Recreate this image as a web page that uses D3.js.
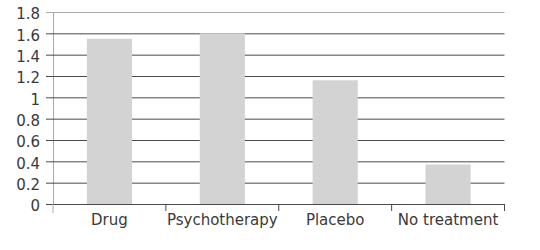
<!DOCTYPE html>
<html>
<head>
<meta charset="utf-8">
<script src="https://cdn.jsdelivr.net/npm/d3@7"></script>
<style>
  body { margin: 0; background: #fff; }
  svg text { font-family: "DejaVu Sans", sans-serif; fill: #3a3a3a; }
</style>
</head>
<body>
<svg id="chart" width="540" height="250"></svg>
<script>
// Chart data
const categories = ["Drug", "Psychotherapy", "Placebo", "No treatment"];
const values = [1.55, 1.60, 1.16, 0.37];
const yTicks = [0, 0.2, 0.4, 0.6, 0.8, 1, 1.2, 1.4, 1.6, 1.8];

const margin = { top: 12, right: 35.5, bottom: 46, left: 53 };
const width = 540 - margin.left - margin.right;
const height = 250 - margin.top - margin.bottom;

const svg = d3.select("#chart");
const g = svg.append("g").attr("transform", `translate(${margin.left},${margin.top})`);

const x = d3.scaleBand().domain(categories).range([0, width]).padding(0);
const y = d3.scaleLinear().domain([0, 1.8]).range([height, 0]);

// y axis with gridlines
const yAxis = g.append("g")
    .call(d3.axisLeft(y).tickValues(yTicks).tickSize(7).tickPadding(6)
        .tickFormat(d => d3.format("")(+d.toFixed(1))));
yAxis.select(".domain").attr("stroke", "#aaa");
yAxis.selectAll(".tick line")
    .attr("x1", -7).attr("x2", width)
    .attr("stroke", d => d === 1.8 ? "#aaa" : "#4a4a4a");
yAxis.selectAll(".tick text")
    .style("font-size", "15px")
    .attr("dy", "0.45em");

// bars
g.selectAll("rect.bar")
    .data(values)
    .join("rect")
    .attr("class", "bar")
    .attr("x", (d, i) => x(categories[i]) + x.bandwidth() * 0.3)
    .attr("width", x.bandwidth() * 0.4)
    .attr("y", d => y(d))
    .attr("height", d => height - y(d))
    .attr("fill", "#d3d3d3");

// x axis: labels at band centres, ticks at band boundaries
const xAxis = g.append("g")
    .attr("transform", `translate(0,${height})`)
    .call(d3.axisBottom(x).tickSize(0).tickPadding(10));
xAxis.select(".domain").attr("stroke", "#4a4a4a");
xAxis.selectAll(".tick text").style("font-size", "15px");

const boundaries = d3.range(categories.length + 1).map(i => i * x.step());
xAxis.selectAll("line.sep")
    .data(boundaries)
    .join("line")
    .attr("class", "sep")
    .attr("x1", d => d).attr("x2", d => d)
    .attr("y1", 0).attr("y2", d => d === 0 ? 9 : 7)
    .attr("stroke", (d, i) => i === 0 ? "#aaa" : "#4a4a4a");
</script>
</body>
</html>
